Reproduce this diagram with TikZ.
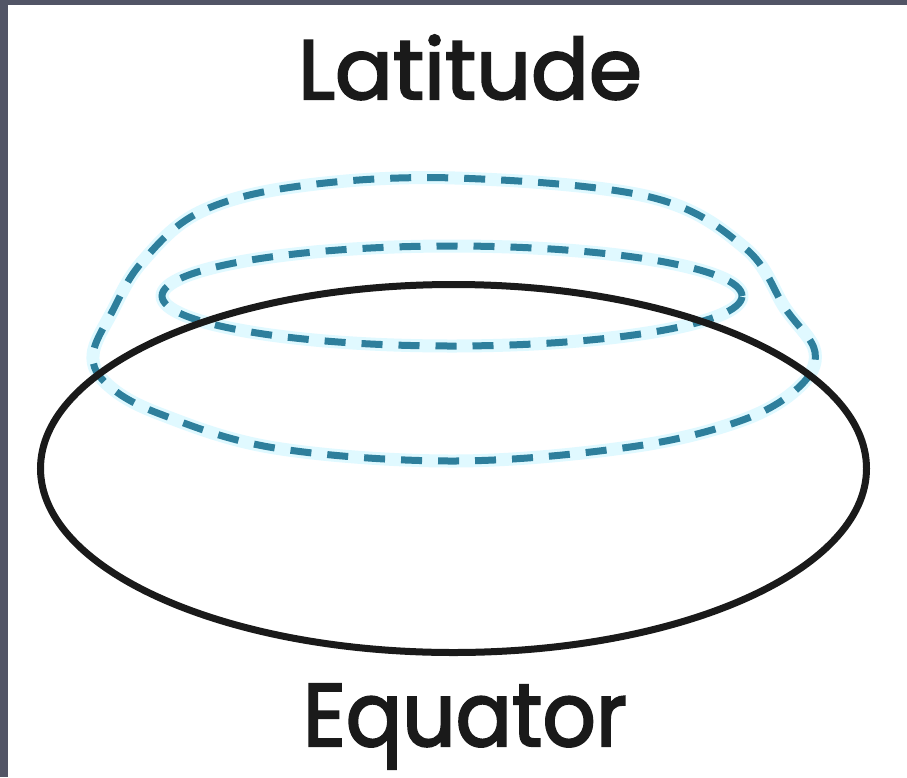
\documentclass[tikz,border=0pt]{standalone}
\usepackage{fontspec}
\setmainfont{Poppins}
\newfontfamily\labelfont{Poppins}[FakeBold=2.5]
\usepackage{graphicx}
\definecolor{framegray}{HTML}{525566}
\definecolor{dashblue}{HTML}{2E7F9C}
\definecolor{halo}{HTML}{E0F9FF}
\definecolor{ink}{HTML}{1A1A1A}
\tikzset{
  haloline/.style={draw=halo,line width=13pt,line join=round},
  dashline/.style={draw=dashblue,line width=7pt,dash pattern=on 21pt off 16pt},
  equatorline/.style={draw=ink,line width=7pt},
  label/.style={inner sep=0pt,anchor=base,text=ink}
}
\begin{document}
\begin{tikzpicture}[x=1pt,y=-1pt]
\useasboundingbox (0,0) rectangle (907,777);
\fill[white] (0,0) rectangle (907,777);
\fill[framegray] (0,0) rectangle (8,777);
\fill[framegray] (0,0) rectangle (907,5);
% outer latitude
\def\outerpath{plot[smooth cycle,tension=0.6] coordinates {(455,178) (650,197) (745,248) (785,308) (815,352) (798,388) (740,421) (630,447) (455,461) (275,448) (160,414) (108,385) (93,355) (112,312) (142,262) (200,212) (300,186)}}
\draw[haloline] \outerpath;
\draw[haloline] (452,296) ellipse [x radius=290pt, y radius=50pt];
\draw[dashline] \outerpath;
\draw[dashline] (452,296) ellipse [x radius=290pt, y radius=50pt];
% equator
\draw[equatorline] (453.5,468.5) ellipse [x radius=413pt, y radius=184pt];
\node[label] (lat) at (470,99) {\resizebox{344pt}{64pt}{\labelfont\fontsize{50pt}{50pt}\selectfont Latitude}};
\node[label] (eq) at (465,746) {\resizebox{324pt}{62pt}{\labelfont\fontsize{50pt}{50pt}\selectfont Equator}};
\end{tikzpicture}
\end{document}
